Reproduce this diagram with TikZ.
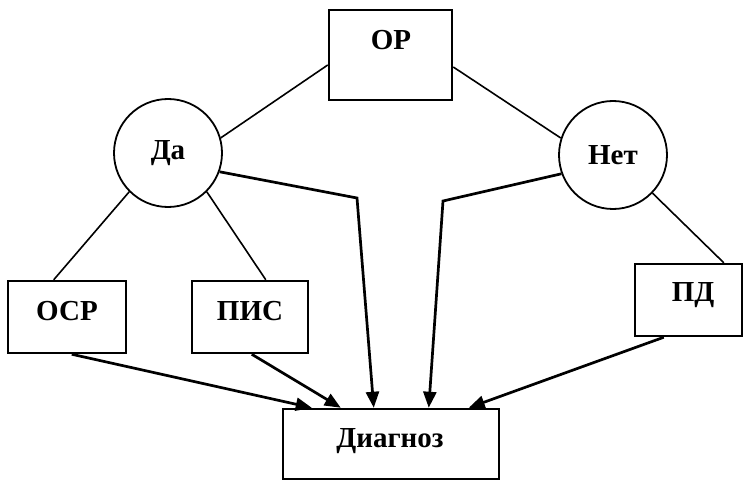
\documentclass[tikz,border=0pt]{standalone}
\usepackage{fontspec}
\setmainfont{Liberation Serif}
\usetikzlibrary{arrows.meta,calc}
\begin{document}
\begin{tikzpicture}[x=1pt,y=-1pt,
  box/.style={draw,line width=2.5pt,inner sep=0pt},
  lbl/.style={font=\fontsize{29}{33}\selectfont\bfseries,inner sep=0pt},
  circ/.style={circle,draw,line width=1.8pt,minimum size=108pt,inner sep=0pt,font=\fontsize{29}{33}\selectfont\bfseries},
  thin/.style={line width=1.6pt},
  arr/.style={line width=2.7pt,-{Triangle[length=16pt,width=13pt]}}]
\useasboundingbox[fill=white] (0,0) rectangle (743,481);
% boxes
\node[box,minimum width=123pt,minimum height=90pt] (op) at (390.5,55) {};
\node[lbl] (opt) at (391,40) {ОР};
\node[box,minimum width=118pt,minimum height=72pt] (osr) at (67,317) {};
\node[lbl] (osrt) at (67,311) {ОСР};
\node[box,minimum width=116pt,minimum height=72pt] (pis) at (250,317) {};
\node[lbl] (pist) at (250,311) {ПИС};
\node[box,minimum width=107pt,minimum height=72pt] (pd) at (688.5,300) {};
\node[lbl] (pdt) at (693,295) {ПД};
\node[box,minimum width=216pt,minimum height=70pt] (dg) at (391,444) {};
\node[lbl] (dgt) at (390,441) {Диагноз};
% circles
\node[circ] (da) at (168,153) {Да};
\node[circ] (net) at (613,155) {Нет};
% thin lines
\draw[thin] ($(op.west)+(0,10)$) -- (da.16);
\draw[thin] ($(op.east)+(0,12)$) -- (net.162);
\draw[thin] (da.-135) -- ($(osr.north west)+(47,0)$);
\draw[thin] (da.-45) -- ($(pis.north west)+(75,0)$);
\draw[thin] (net.-44) -- ($(pd.north west)+(90,0)$);
% arrows
\coordinate (b1) at (357,198);
\coordinate (b2) at (443,201);
\draw[arr] ($(osr.south west)+(65,0)$) -- ($(dg.north west)+(30,0)$);
\draw[arr] ($(pis.south west)+(61,0)$) -- ($(dg.north west)+(59,0)$);
\draw[arr] (da.-20) -- (b1) -- ($(dg.north west)+(92,0)$);
\draw[arr] (net.-160) -- (b2) -- ($(dg.north west)+(147,0)$);
\draw[arr] ($(pd.south west)+(30,0)$) -- ($(dg.north west)+(187,0)$);
\end{tikzpicture}
\end{document}
